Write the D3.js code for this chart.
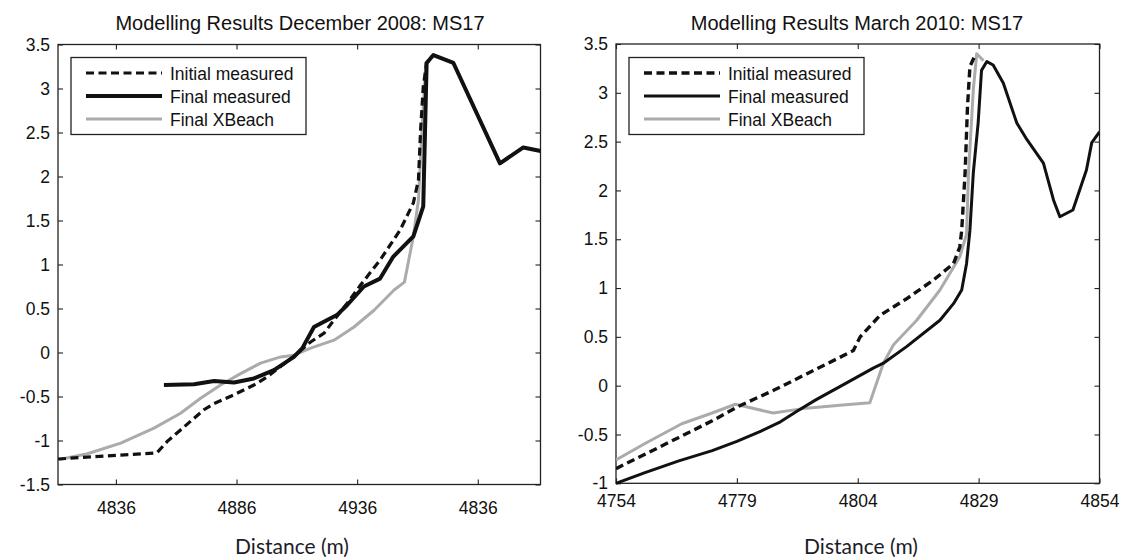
<!DOCTYPE html>
<html><head><meta charset="utf-8">
<script src="https://cdn.jsdelivr.net/npm/d3@7"></script>
<style>body{margin:0;background:#fff}svg{display:block}</style>
</head><body><svg id="c" width="1125" height="557"></svg>
<script>
const leftTitle = "Modelling Results December 2008: MS17";
const rightTitle = "Modelling Results March 2010: MS17";
const xLabel = "Distance (m)";
const legendLabels = ["Initial measured", "Final measured", "Final XBeach"];

const leftXTicks = [4836, 4886, 4936, 4986];
const leftXTickLabels = ["4836", "4886", "4936", "4836"];
const leftYTicks = [3.5, 3, 2.5, 2, 1.5, 1, 0.5, 0, -0.5, -1, -1.5];
const rightXTicks = [4754, 4779, 4804, 4829, 4854];
const rightXTickLabels = ["4754", "4779", "4804", "4829", "4854"];
const rightYTicks = [3.5, 3, 2.5, 2, 1.5, 1, 0.5, 0, -0.5, -1];

const leftInitial = [[4812,-1.21],[4853,-1.14],[4857.3,-1.01],[4862.8,-0.88],[4872.5,-0.65],[4876.7,-0.58],[4885,-0.48],[4893.2,-0.37],[4898.8,-0.275],[4907.1,-0.10],[4911.2,-0.01],[4916.7,0.12],[4922.3,0.22],[4926.4,0.37],[4931.9,0.56],[4937.5,0.77],[4945.5,1.05],[4953.8,1.39],[4959.3,1.70],[4961.4,1.96],[4962.3,2.53],[4963.4,3.02],[4964.8,3.29],[4967.2,3.37]];
const leftFinal = [[4855.9,-0.37],[4868.4,-0.36],[4876.7,-0.325],[4885,-0.34],[4893.2,-0.295],[4901.5,-0.20],[4909.8,-0.05],[4913.3,0.05],[4918.1,0.29],[4923.6,0.37],[4927.8,0.43],[4931.9,0.54],[4938.8,0.75],[4945.5,0.84],[4951,1.09],[4959.3,1.32],[4963.4,1.66],[4964.8,3.29],[4967.6,3.38],[4975.9,3.29],[4995.2,2.15],[5004.9,2.33],[5012,2.29]];
const leftXBeach = [[4812,-1.22],[4824.2,-1.15],[4838,-1.03],[4851.8,-0.86],[4862.8,-0.69],[4871.1,-0.52],[4879.4,-0.37],[4887.7,-0.24],[4896,-0.12],[4904.3,-0.05],[4909.8,-0.03],[4916.7,0.05],[4926.4,0.14],[4934.7,0.29],[4943,0.48],[4951.3,0.71],[4955.6,0.80],[4959.3,1.32],[4961.4,1.73],[4963,2.6],[4964.5,3.3]];

const rightInitial = [[4754,-0.85],[4760.1,-0.70],[4767,-0.53],[4773.9,-0.36],[4779.4,-0.21],[4786.5,-0.05],[4793.4,0.12],[4800.3,0.29],[4803.1,0.36],[4804.5,0.50],[4808.6,0.72],[4814.1,0.89],[4819.6,1.08],[4823.8,1.25],[4825.1,1.42],[4825.5,1.59],[4826.2,2.18],[4826.7,2.86],[4827.2,3.27],[4828.4,3.40]];
const rightFinal = [[4754,-1.0],[4760,-0.89],[4767,-0.77],[4773.9,-0.665],[4779,-0.57],[4784,-0.465],[4788,-0.37],[4791.5,-0.26],[4795.5,-0.14],[4800.3,-0.01],[4807.2,0.18],[4809.3,0.23],[4814.1,0.40],[4821,0.67],[4823.8,0.84],[4825.5,0.98],[4826.5,1.25],[4827.2,1.59],[4827.9,2.18],[4828.9,2.69],[4829.6,3.23],[4830.7,3.32],[4832,3.285],[4834.1,3.10],[4836.9,2.69],[4839,2.52],[4842.4,2.28],[4844.5,1.90],[4845.8,1.73],[4848.5,1.80],[4851.3,2.21],[4852.4,2.49],[4854,2.60]];
const rightXBeach = [[4754,-0.76],[4760.1,-0.59],[4767.6,-0.39],[4773.9,-0.28],[4778.7,-0.19],[4786.5,-0.28],[4793.4,-0.23],[4800.3,-0.20],[4806.5,-0.175],[4809.3,0.23],[4811.4,0.42],[4816.2,0.67],[4821,0.98],[4825.1,1.32],[4826.5,1.55],[4826.9,2.17],[4827.9,3.03],[4828.6,3.40],[4830,3.33]];

const svg = d3.select("#c");
const FONT = "'Liberation Sans', Arial, Helvetica, sans-serif";

const panels = [
  {id:"L", title:leftTitle, titleX:300, box:{l:58,r:540.5,t:44.5,b:484.5}, xDomain:[4812,5012], yDomain:[-1.5,3.5],
   xTicks:leftXTicks, xLabels:leftXTickLabels, yTicks:leftYTicks, xPad:17, labelX:292,
   series:[leftXBeach, leftInitial, leftFinal], widths:{solid:4, dash:3.2, gray:3}},
  {id:"R", title:rightTitle, titleX:857, box:{l:616,r:1099.5,t:44,b:483.3}, xDomain:[4754,4854], yDomain:[-1,3.5],
   xTicks:rightXTicks, xLabels:rightXTickLabels, yTicks:rightYTicks, xPad:11, labelX:861,
   series:[rightXBeach, rightInitial, rightFinal], widths:{solid:3, dash:3.4, gray:3}}
];

panels.forEach(p => {
  const b = p.box;
  const x = d3.scaleLinear().domain(p.xDomain).range([b.l, b.r]);
  const y = d3.scaleLinear().domain(p.yDomain).range([b.b, b.t]);
  const g = svg.append("g");

  g.append("clipPath").attr("id", "clip" + p.id).append("rect")
    .attr("x", b.l).attr("y", b.t - 2).attr("width", b.r - b.l).attr("height", b.b - b.t + 4);

  const styleAxis = sel => {
    sel.select(".domain").remove();
    sel.selectAll(".tick line").attr("stroke", "#222").attr("stroke-width", 1.1);
    sel.selectAll("text").attr("fill", "#111").style("font-family", FONT).style("font-size", "17.5px");
  };
  g.append("g").attr("transform", `translate(0,${b.b})`)
    .call(d3.axisBottom(x).tickValues(p.xTicks).tickFormat((d, i) => p.xLabels[i]).tickSizeInner(-5).tickSizeOuter(0).tickPadding(p.xPad))
    .call(styleAxis);
  g.append("g").attr("transform", `translate(0,${b.t})`)
    .call(d3.axisTop(x).tickValues(p.xTicks).tickFormat("").tickSizeInner(-5).tickSizeOuter(0))
    .call(styleAxis);
  g.append("g").attr("transform", `translate(${b.l},0)`)
    .call(d3.axisLeft(y).tickValues(p.yTicks).tickFormat(d => String(d)).tickSizeInner(-5).tickSizeOuter(0).tickPadding(8))
    .call(styleAxis);
  g.append("g").attr("transform", `translate(${b.r},0)`)
    .call(d3.axisRight(y).tickValues(p.yTicks).tickFormat("").tickSizeInner(-5).tickSizeOuter(0))
    .call(styleAxis);

  g.append("rect").attr("x", b.l).attr("y", b.t).attr("width", b.r - b.l).attr("height", b.b - b.t)
    .attr("fill", "none").attr("stroke", "#222").attr("stroke-width", 1.3);

  const line = d3.line().x(d => x(d[0])).y(d => y(d[1]));
  const lg = g.append("g").attr("clip-path", `url(#clip${p.id})`);
  const [xb, ini, fin] = p.series;
  lg.append("path").datum(xb).attr("d", line).attr("fill", "none").attr("stroke", "#ababab")
    .attr("stroke-width", p.widths.gray).attr("stroke-linejoin", "round");
  lg.append("path").datum(ini).attr("d", line).attr("fill", "none").attr("stroke", "#111")
    .attr("stroke-width", p.widths.dash).attr("stroke-dasharray", "8,4.5");
  lg.append("path").datum(fin).attr("d", line).attr("fill", "none").attr("stroke", "#111")
    .attr("stroke-width", p.widths.solid).attr("stroke-linejoin", "round");

  g.append("text").attr("x", p.titleX).attr("y", 30).attr("text-anchor", "middle")
    .style("font-family", FONT).style("font-size", "20px").attr("fill", "#111").text(p.title);

  g.append("text").attr("x", p.labelX).attr("y", 554).attr("text-anchor", "middle")
    .style("font-family", "Lato, 'Open Sans', sans-serif").style("font-size", "21px").attr("fill", "#1c1c28").text(xLabel);

  const L = {x: b.l + 13, y: 57.5, w: 235, h: 77};
  const leg = g.append("g");
  leg.append("rect").attr("x", L.x).attr("y", L.y).attr("width", L.w).attr("height", L.h)
    .attr("fill", "#fff").attr("stroke", "#222").attr("stroke-width", 1.3);
  const rows = [
    {label: legendLabels[0], stroke: "#111", w: p.widths.dash, dash: "8,4.5"},
    {label: legendLabels[1], stroke: "#111", w: p.widths.solid, dash: null},
    {label: legendLabels[2], stroke: "#ababab", w: p.widths.gray, dash: null}
  ];
  rows.forEach((r, i) => {
    const cy = 73 + i * 23;
    leg.append("line").attr("x1", L.x + 15).attr("x2", L.x + 91).attr("y1", cy).attr("y2", cy)
      .attr("stroke", r.stroke).attr("stroke-width", r.w).attr("stroke-dasharray", r.dash);
    leg.append("text").attr("x", L.x + 99).attr("y", cy + 6.5)
      .style("font-family", FONT).style("font-size", "17.5px").attr("fill", "#111").text(r.label);
  });
});
</script></body></html>
